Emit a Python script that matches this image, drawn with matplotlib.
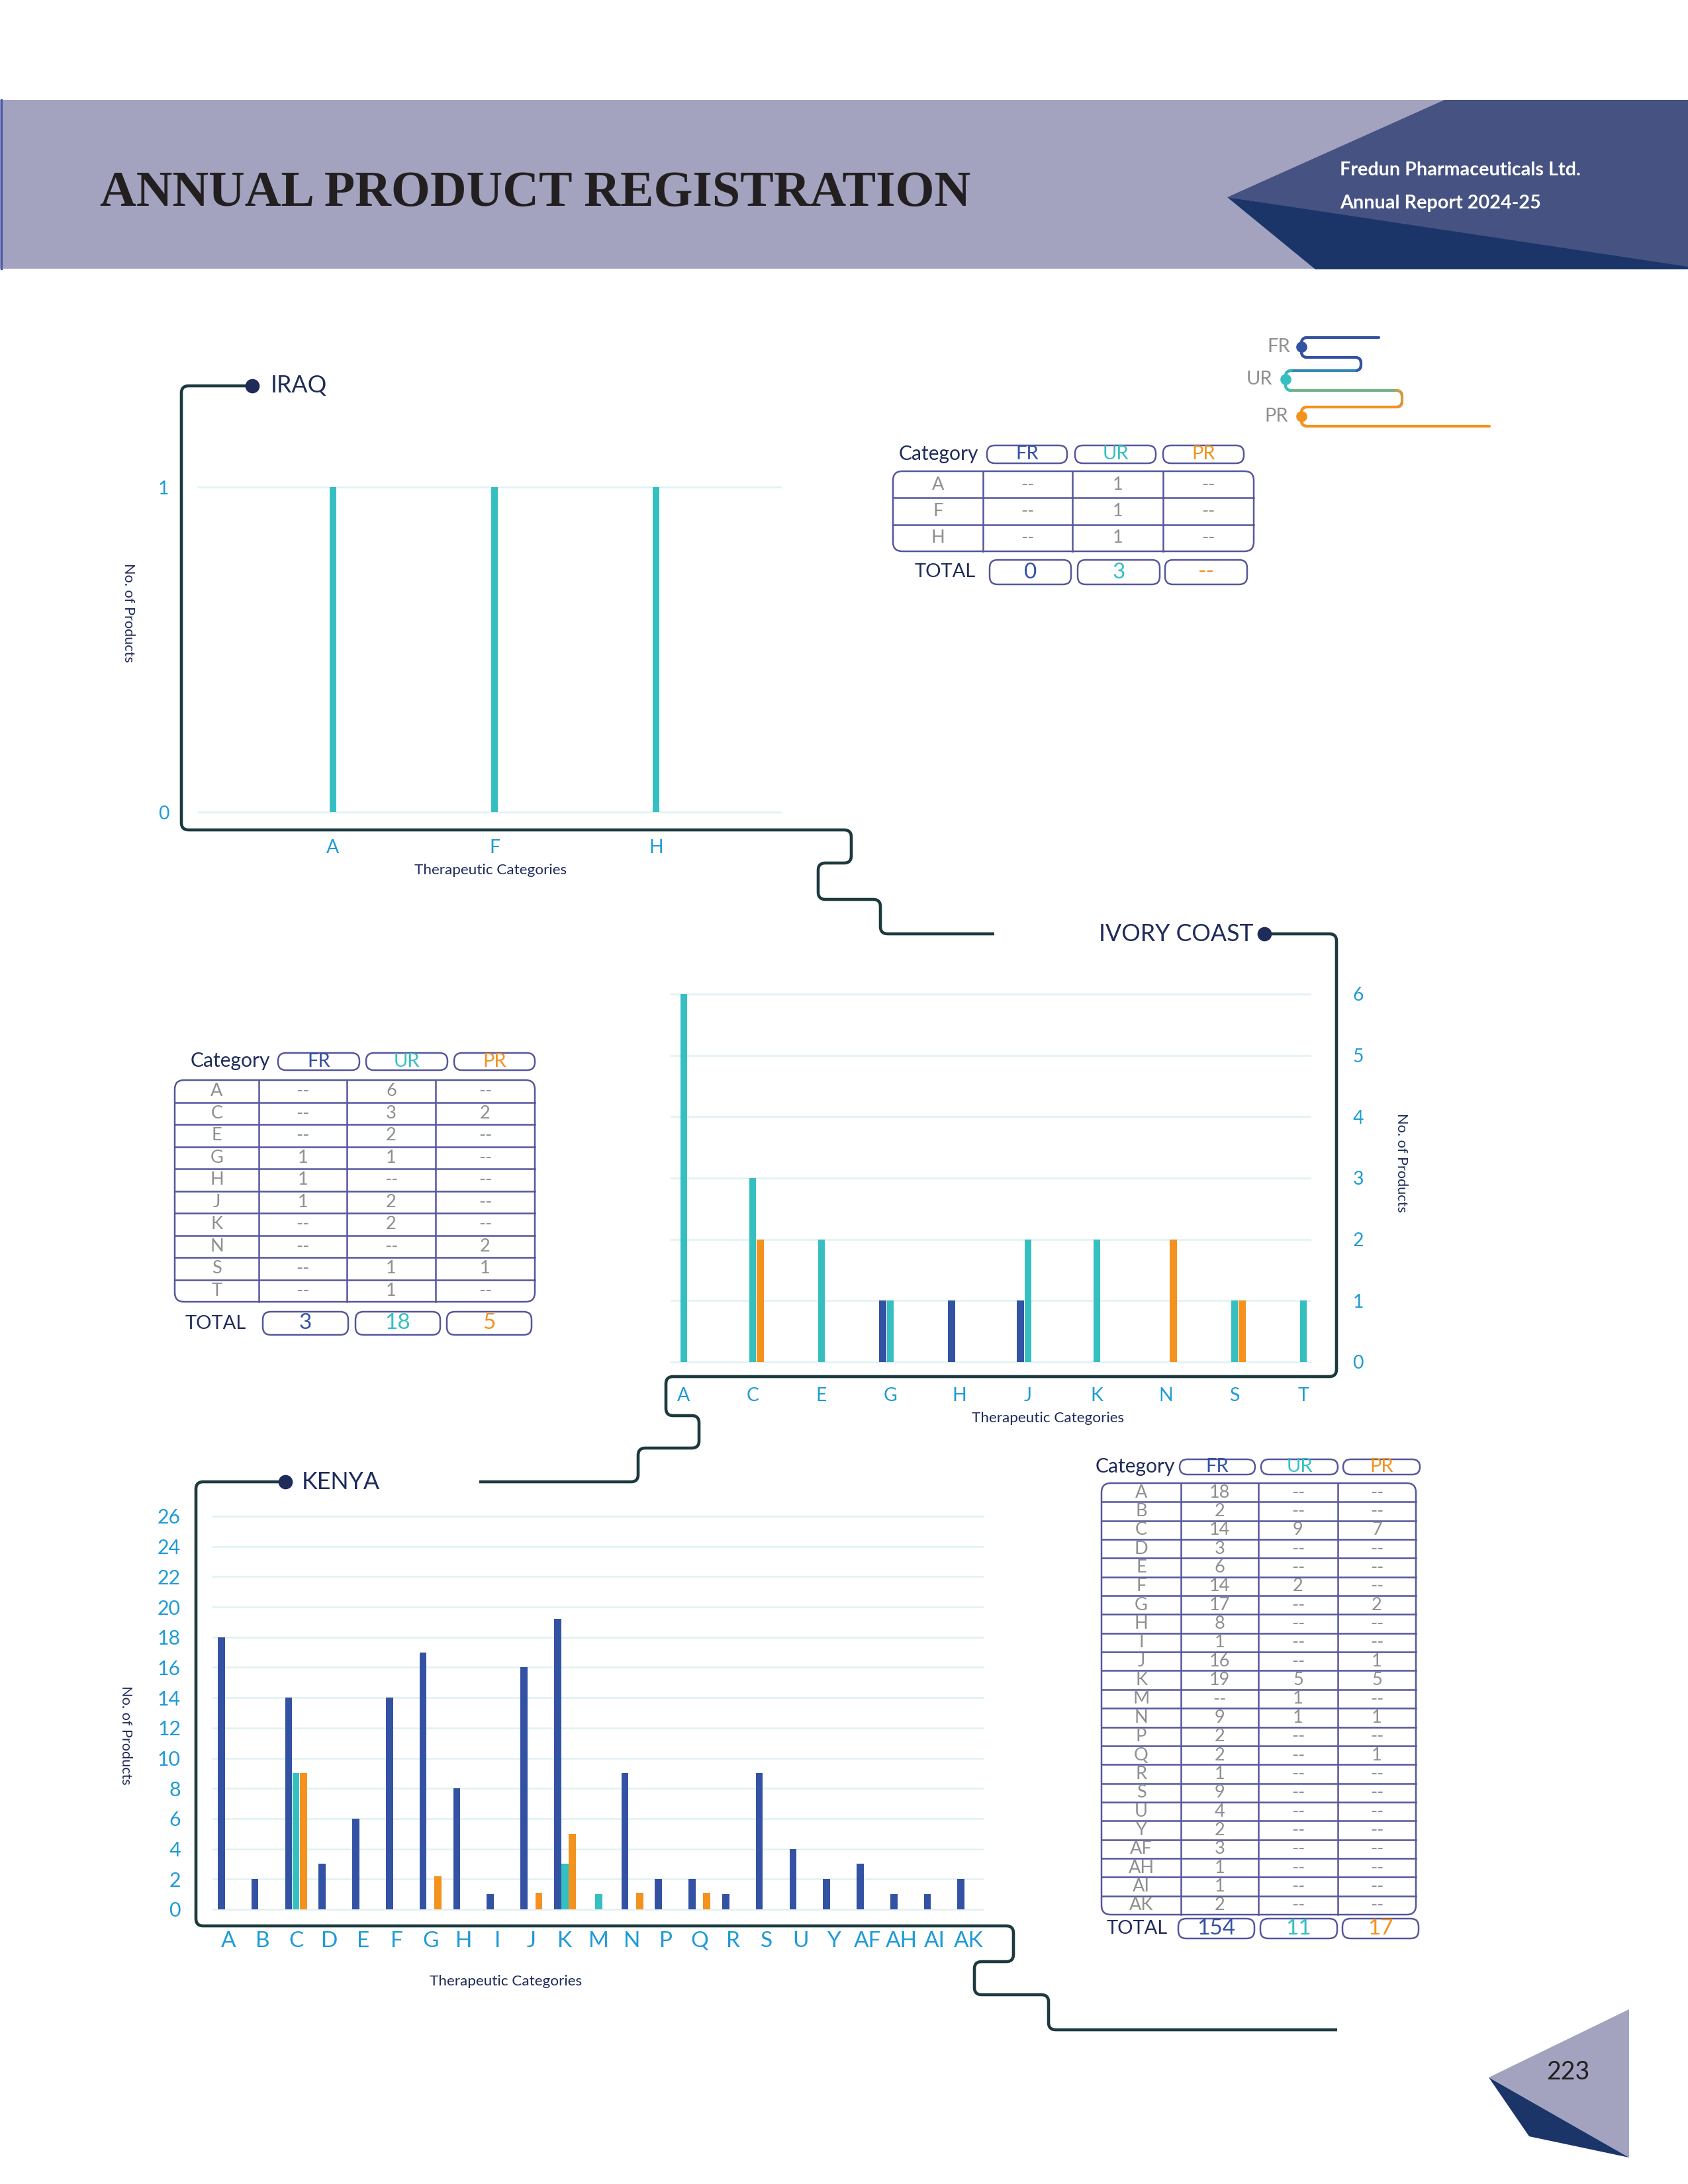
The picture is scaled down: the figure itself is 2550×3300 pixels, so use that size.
"""
Annual product registration page: Iraq / Ivory Coast / Kenya
"""

import numpy as np
import matplotlib
matplotlib.use("Agg")
import matplotlib.pyplot as plt
from matplotlib.patches import FancyBboxPatch, Polygon, Rectangle
from matplotlib.collections import LineCollection
from matplotlib.colors import to_rgb

W, H = 2550, 3300
DPI = 300

plt.rcParams["font.family"] = ["Lato", "DejaVu Sans"]

# colours
FR_C = "#3452a3"
UR_C = "#36bfc1"
PR_C = "#f3921f"
TICK_C = "#1f9bd6"
NAVY = "#1f2c5a"
LINE_C = "#1c3a3e"
GRID_C = "#e0f1f4"
TBL_C = "#55579a"
GREY = "#8f8f8f"

# ---- data ----
series = ["FR", "UR", "PR"]

iraq_cats = ["A", "F", "H"]
iraq_fr = [0, 0, 0]
iraq_ur = [1, 1, 1]
iraq_pr = [0, 0, 0]
iraq_tbl_fr = ["--", "--", "--"]
iraq_tbl_ur = ["1", "1", "1"]
iraq_tbl_pr = ["--", "--", "--"]
iraq_tot = ["0", "3", "--"]

ivory_cats = ["A", "C", "E", "G", "H", "J", "K", "N", "S", "T"]
ivory_fr = [0, 0, 0, 1, 1, 1, 0, 0, 0, 0]
ivory_ur = [6, 3, 2, 1, 0, 2, 2, 0, 1, 1]
ivory_pr = [0, 2, 0, 0, 0, 0, 0, 2, 1, 0]
ivory_tbl_fr = ["--", "--", "--", "1", "1", "1", "--", "--", "--", "--"]
ivory_tbl_ur = ["6", "3", "2", "1", "--", "2", "2", "--", "1", "1"]
ivory_tbl_pr = ["--", "2", "--", "--", "--", "--", "--", "2", "1", "--"]
ivory_tot = ["3", "18", "5"]

kenya_cats = ["A", "B", "C", "D", "E", "F", "G", "H", "I", "J", "K", "M",
              "N", "P", "Q", "R", "S", "U", "Y", "AF", "AH", "AI", "AK"]
kenya_fr = [18, 2, 14, 3, 6, 14, 17, 8, 1, 16, 19.2, 0, 9, 2, 2, 1, 9, 4, 2, 3, 1, 1, 2]
kenya_ur = [0, 0, 9, 0, 0, 0, 0, 0, 0, 0, 3, 1, 0, 0, 0, 0, 0, 0, 0, 0, 0, 0, 0]
kenya_pr = [0, 0, 9, 0, 0, 0, 2.2, 0, 0, 1.1, 5, 0, 1.1, 0, 1.1, 0, 0, 0, 0, 0, 0, 0, 0]
kenya_tbl_fr = ["18", "2", "14", "3", "6", "14", "17", "8", "1", "16", "19", "--",
                "9", "2", "2", "1", "9", "4", "2", "3", "1", "1", "2"]
kenya_tbl_ur = ["--", "--", "9", "--", "--", "2", "--", "--", "--", "--", "5", "1",
                "1", "--", "--", "--", "--", "--", "--", "--", "--", "--", "--"]
kenya_tbl_pr = ["--", "--", "7", "--", "--", "--", "2", "--", "--", "1", "5", "--",
                "1", "--", "1", "--", "--", "--", "--", "--", "--", "--", "--"]
kenya_tot = ["154", "11", "17"]


fig = plt.figure(figsize=(W / DPI, H / DPI), dpi=DPI)
ov = fig.add_axes([0, 0, 1, 1], zorder=0)
ov.set_xlim(0, W)
ov.set_ylim(H, 0)
ov.axis("off")


def rounded_pts(pts, r=10, n=10):
    pts = [np.array(p, float) for p in pts]
    out = [pts[0]]
    for i in range(1, len(pts) - 1):
        p0, p1, p2 = pts[i - 1], pts[i], pts[i + 1]
        l1, l2 = np.linalg.norm(p1 - p0), np.linalg.norm(p2 - p1)
        rr = min(r, l1 / 2, l2 / 2)
        a = p1 - (p1 - p0) / l1 * rr
        b = p1 + (p2 - p1) / l2 * rr
        for t in np.linspace(0, 1, n):
            out.append((1 - t) ** 2 * a + 2 * (1 - t) * t * p1 + t ** 2 * b)
    out.append(pts[-1])
    return np.array(out)


def connector(pts, dot=None):
    p = rounded_pts(pts, r=11)
    ov.plot(p[:, 0], p[:, 1], color=LINE_C, lw=1.1, solid_capstyle="butt")
    if dot is not None:
        ov.plot(*dot, "o", ms=4.2, color=NAVY)


def pill(x0, y0, x1, y1, r=12):
    r = min(r, (y1 - y0) / 2)
    ov.add_patch(FancyBboxPatch((x0, y0), x1 - x0, y1 - y0,
                                boxstyle=f"round,pad=0,rounding_size={r}",
                                fc="none", ec=TBL_C, lw=0.6))


def draw_table(cats, fr, ur, pr, tot, cat_xy, head_x, head_y, box, seps,
               tot_xy, tot_x, tot_y):
    colors = [FR_C, UR_C, PR_C]
    ov.text(*cat_xy, "Category", ha="center", va="center", color=NAVY, fontsize=7.2)
    for (x0, x1), lab, c in zip(head_x, series, colors):
        pill(x0, head_y[0], x1, head_y[1])
        ov.text((x0 + x1) / 2, sum(head_y) / 2, lab, ha="center", va="center",
                color=c, fontsize=7)
    bx0, bx1, by0, by1 = box
    pill(bx0, by0, bx1, by1, r=14)
    n = len(cats)
    rh = (by1 - by0) / n
    for i in range(1, n):
        ov.plot([bx0, bx1], [by0 + i * rh] * 2, color=TBL_C, lw=0.6)
    for s in seps:
        ov.plot([s, s], [by0, by1], color=TBL_C, lw=0.6)
    edges = [bx0] + list(seps) + [bx1]
    centers = [(edges[k] + edges[k + 1]) / 2 for k in range(4)]
    for i, row in enumerate(zip(cats, fr, ur, pr)):
        for cx, v in zip(centers, row):
            ov.text(cx, by0 + (i + 0.5) * rh, v, ha="center", va="center",
                    color=GREY, fontsize=6.5)
    ov.text(*tot_xy, "TOTAL", ha="center", va="center", color=NAVY, fontsize=7)
    for (x0, x1), v, c in zip(tot_x, tot, colors):
        pill(x0, tot_y[0], x1, tot_y[1])
        ov.text((x0 + x1) / 2, sum(tot_y) / 2, v, ha="center", va="center",
                color=c, fontsize=8)


def chart_axes(xref, yref, xlim, ylim):
    (va, pa), (vb, pb) = xref
    sx = (pb - pa) / (vb - va)
    x0 = pa + (xlim[0] - va) * sx
    x1 = pa + (xlim[1] - va) * sx
    (va, pa), (vb, pb) = yref
    sy = (pb - pa) / (vb - va)
    yb = pa + (ylim[0] - va) * sy
    yt = pa + (ylim[1] - va) * sy
    ax = fig.add_axes([x0 / W, 1 - yb / H, (x1 - x0) / W, (yb - yt) / H], zorder=2)
    ax.set_xlim(*xlim)
    ax.set_ylim(*ylim)
    ax.patch.set_alpha(0)
    for s in ax.spines.values():
        s.set_visible(False)
    ax.set_axisbelow(True)
    ax.yaxis.grid(True, color=GRID_C, lw=0.6)
    return ax


def bars(ax, cats, fr, ur, pr, bw, off):
    x = np.arange(len(cats))
    ax.bar(x - off, fr, width=bw, color=FR_C, lw=0)
    ax.bar(x, ur, width=bw, color=UR_C, lw=0)
    ax.bar(x + off, pr, width=bw, color=PR_C, lw=0)
    ax.set_xticks(x)
    ax.set_xticklabels(cats)


# ---- header band ----
ov.add_patch(Rectangle((0, 151), W, 255, color="#a3a3c0", lw=0))
ov.add_patch(Polygon([(2182, 151), (W, 151), (W, 407), (1854, 298)], color="#465282", lw=0))
ov.add_patch(Polygon([(1854, 298), (1987, 407), (W, 407), (W, 403)], color="#1b3569", lw=0))
ov.plot([1.5, 1.5], [151, 406], color="#4b5aa5", lw=0.8)
ov.text(151, 311, "ANNUAL PRODUCT REGISTRATION", fontfamily=["Liberation Serif", "DejaVu Serif"],
        fontweight="bold", fontsize=18.2, color="#231f20", va="baseline", ha="left")
ov.text(2024, 257, "Fredun Pharmaceuticals Ltd.", color="white", fontweight="bold",
        fontsize=6.9, va="center", ha="left")
ov.text(2024, 307, "Annual Report 2024-25", color="white", fontweight="bold",
        fontsize=6.9, va="center", ha="left")

# ---- legend snake ----
snake = rounded_pts([(2083, 510), (1966, 510), (1966, 540), (2056, 540), (2056, 560),
                     (1942, 560), (1942, 590), (2118, 590), (2118, 615), (1966, 615),
                     (1966, 644), (2250, 644)], r=9)
seglen = np.linalg.norm(np.diff(snake, axis=0), axis=1)
pos = np.concatenate([[0], np.cumsum(seglen)])
mid = (pos[:-1] + pos[1:]) / 2
stops = [0, 237, 371, 401, 602, pos[-1]]
stop_cols = [FR_C, FR_C, UR_C, UR_C, PR_C, PR_C]
rgb = np.array([to_rgb(c) for c in stop_cols])
seg_cols = np.stack([np.interp(mid, stops, rgb[:, k]) for k in range(3)], axis=1)
lc = LineCollection(np.stack([snake[:-1], snake[1:]], axis=1), colors=seg_cols, lw=1.0,
                    capstyle="round")
ov.add_collection(lc)
for lab, (x, y), c, tx in zip(series, [(1966, 524), (1942, 573), (1966, 629)],
                              [FR_C, UR_C, PR_C], [1949, 1922, 1946]):
    ov.plot(x, y, "o", ms=3, color=c)
    ov.text(tx, y, lab, ha="right", va="center", color=GREY, fontsize=7)

# ---- connectors ----
connector([(381, 583), (274, 583), (274, 1254), (1286, 1254), (1286, 1304), (1236, 1304),
           (1236, 1359), (1330, 1359), (1330, 1411), (1502, 1411)], dot=(381, 583))
connector([(1910, 1411), (2019, 1411), (2019, 2080), (1006, 2080), (1006, 2139),
           (1056, 2139), (1056, 2188), (964, 2188), (964, 2239), (724, 2239)], dot=(1910, 1411))
connector([(431, 2239), (296, 2239), (296, 2910), (1531, 2910), (1531, 2964), (1472, 2964),
           (1472, 3014), (1584, 3014), (1584, 3067), (2020, 3067)], dot=(431, 2239))

# ---- titles and axis labels ----
ov.text(409, 583, "IRAQ", ha="left", va="center", color=NAVY, fontsize=8.6)
ov.text(1893, 1411, "IVORY COAST", ha="right", va="center", color=NAVY, fontsize=8.6)
ov.text(456, 2239, "KENYA", ha="left", va="center", color=NAVY, fontsize=8.6)
for x, y in [(194, 926), (2117, 1757), (190, 2622)]:
    ov.text(x, y, "No. of Products", rotation=-90, ha="center", va="center",
            color=NAVY, fontsize=5.2)
for x, y in [(741, 1315), (1583, 2143), (764, 2994)]:
    ov.text(x, y, "Therapeutic Categories", ha="center", va="center", color=NAVY, fontsize=5.4)

# ---- IRAQ chart ----
ax = chart_axes(((0, 503), (2, 991)), ((0, 1227), (1, 736)), (-0.836, 2.779), (-0.012, 1.012))
bars(ax, iraq_cats, iraq_fr, iraq_ur, iraq_pr, bw=0.041, off=0.041)
ax.set_yticks([0, 1])
ax.tick_params(length=0, labelcolor=TICK_C)
ax.tick_params(axis="y", pad=10.5, labelsize=6.8)
ax.tick_params(axis="x", pad=8.5, labelsize=6.8)

# ---- IVORY COAST chart ----
ax = chart_axes(((0, 1033), (9, 1969)), ((0, 2058), (6, 1502)), (-0.192, 9.115), (-0.03, 6.03))
bars(ax, ivory_cats, ivory_fr, ivory_ur, ivory_pr, bw=0.103, off=0.108)
ax.set_yticks(range(0, 7))
ax.yaxis.tick_right()
ax.tick_params(length=0, labelcolor=TICK_C)
ax.tick_params(axis="y", pad=15, labelsize=6.8)
ax.tick_params(axis="x", pad=8.5, labelsize=6.8)

# ---- KENYA chart ----
ax = chart_axes(((0, 345.5), (22, 1463)), ((0, 2885), (26, 2291)), (-0.482, 22.47), (-0.15, 26.15))
bars(ax, kenya_cats, kenya_fr, kenya_ur, kenya_pr, bw=0.21, off=0.22)
ax.set_yticks(range(0, 27, 2))
ax.tick_params(length=0, labelcolor=TICK_C)
ax.tick_params(axis="y", pad=11.5, labelsize=7.3)
ax.tick_params(axis="x", pad=7, labelsize=8)

# ---- tables ----
draw_table(iraq_cats, iraq_tbl_fr, iraq_tbl_ur, iraq_tbl_pr, iraq_tot,
           cat_xy=(1418, 686), head_x=[(1491, 1612), (1624, 1746), (1757, 1879)],
           head_y=(673, 700), box=(1349, 1894, 712, 833), seps=(1485, 1620, 1757),
           tot_xy=(1428, 864), tot_x=[(1495, 1618), (1628, 1752), (1760, 1884)],
           tot_y=(846, 883))
draw_table(ivory_cats, ivory_tbl_fr, ivory_tbl_ur, ivory_tbl_pr, ivory_tot,
           cat_xy=(348, 1603), head_x=[(420, 543), (553, 676), (686, 808)],
           head_y=(1591, 1617), box=(264, 808, 1632, 1967), seps=(391, 524, 658),
           tot_xy=(326, 2000), tot_x=[(397, 526), (537, 665), (675, 803)],
           tot_y=(1982, 2017))
draw_table(kenya_cats, kenya_tbl_fr, kenya_tbl_ur, kenya_tbl_pr, kenya_tot,
           cat_xy=(1715, 2216), head_x=[(1782, 1896), (1905, 2021), (2029, 2145)],
           head_y=(2205, 2228), box=(1664, 2139, 2241, 2893), seps=(1784, 1901, 2021),
           tot_xy=(1718, 2914), tot_x=[(1780, 1895), (1904, 2020), (2028, 2143)],
           tot_y=(2899, 2929))

# ---- page corner ----
ov.add_patch(Polygon([(2249, 3139), (2461, 3036), (2461, 3260)], color="#a3a3c0", lw=0))
ov.add_patch(Polygon([(2249, 3139), (2310, 3228), (2461, 3260)], color="#1b3569", lw=0))
ov.text(2369, 3131, "223", ha="center", va="center", color="#231f20", fontsize=9)

fig.savefig("out.png", dpi=DPI)
